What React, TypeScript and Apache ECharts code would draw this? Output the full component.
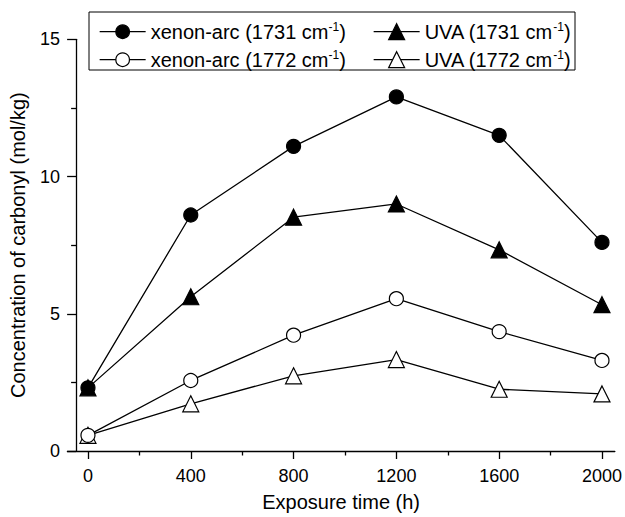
import React, { useEffect, useRef } from 'react';
import * as echarts from 'echarts';

const exposureHours = [0, 400, 800, 1200, 1600, 2000];
const xenon1731 = [2.3, 8.6, 11.1, 12.9, 11.5, 7.6];
const uva1731 = [2.3, 5.62, 8.52, 9.0, 7.33, 5.33];
const xenon1772 = [0.57, 2.57, 4.22, 5.55, 4.35, 3.3];
const uva1772 = [0.57, 1.72, 2.74, 3.33, 2.25, 2.08];
const xMajorTicks = [0, 400, 800, 1200, 1600, 2000];
const xMinorTicks = [200, 600, 1000, 1400, 1800];

const NAME_X31 = 'xenon-arc (1731 cm-1)';
const NAME_U31 = 'UVA (1731 cm-1)';
const NAME_X72 = 'xenon-arc (1772 cm-1)';
const NAME_U72 = 'UVA (1772 cm-1)';

const FONT = 'Liberation Sans, Arial, Helvetica, sans-serif';

const legendBase: Record<string, string> = {
  [NAME_X31]: 'xenon-arc (1731 cm',
  [NAME_U31]: 'UVA (1731 cm',
  [NAME_X72]: 'xenon-arc (1772 cm',
  [NAME_U72]: 'UVA (1772 cm',
};

function pair(xs: number[], ys: number[]) {
  return xs.map((x, i) => [x, ys[i]]);
}

export default function App() {
  const ref = useRef<HTMLDivElement>(null);
  useEffect(() => {
    if (!ref.current) return;
    const chart = echarts.init(ref.current, undefined, { renderer: 'svg' });
    const rich = {
      t: { fontSize: 20, lineHeight: 22, color: '#000', fontFamily: FONT },
      s: { fontSize: 12, lineHeight: 12, color: '#000', fontFamily: FONT, verticalAlign: 'top' },
    };
    const formatter = (name: string) => `{t|${legendBase[name]}}{s|-1}{t|)}`;
    const mkSeries = (name: string, data: number[], symbol: string, size: number, fill: string, z: number) => ({
      name,
      type: 'line',
      xAxisIndex: 0,
      yAxisIndex: 0,
      data: pair(exposureHours, data),
      symbol,
      symbolSize: size,
      showAllSymbol: true,
      z,
      lineStyle: { color: '#000', width: 1.3 },
      itemStyle: { color: fill, borderColor: '#000', borderWidth: 1.2 },
      emphasis: { disabled: true },
    });
    const legendItem = (name: string, fill: string) => ({
      name,
      itemStyle: { color: fill, borderColor: '#000', borderWidth: 1.2 },
      lineStyle: { color: '#000', width: 1.3 },
    });
    chart.setOption({
      animation: false,
      backgroundColor: '#fff',
      textStyle: { fontFamily: FONT },
      grid: { left: 67.4, right: 7.5, top: 39.3, bottom: 59.3, containLabel: false },
      legend: [
        {
          orient: 'vertical',
          left: 99,
          top: 20.7,
          padding: 0,
          itemGap: 7,
          itemWidth: 46,
          itemHeight: 17,
          selectedMode: false,
          data: [legendItem(NAME_X31, '#000'), legendItem(NAME_X72, '#fff')],
          formatter,
          textStyle: { rich, color: '#000' },
        },
        {
          orient: 'vertical',
          left: 373,
          top: 20.7,
          padding: 0,
          itemGap: 7,
          itemWidth: 46,
          itemHeight: 20,
          selectedMode: false,
          data: [legendItem(NAME_U31, '#000'), legendItem(NAME_U72, '#fff')],
          formatter,
          textStyle: { rich, color: '#000' },
        },
      ],
      graphic: [
        {
          type: 'rect',
          shape: { x: 89, y: 12, width: 486, height: 58 },
          style: { fill: 'none', stroke: '#000', lineWidth: 1 },
          silent: true,
        },
      ],
      xAxis: [
        {
          type: 'value',
          min: -80,
          max: 2050,
          position: 'bottom',
          name: 'Exposure time (h)',
          nameLocation: 'middle',
          nameGap: 41,
          nameTextStyle: { fontSize: 20, color: '#000', fontFamily: FONT },
          axisLine: { show: true, onZero: false, lineStyle: { color: '#000', width: 1.3 } },
          axisTick: { show: true, inside: false, length: 8, customValues: xMajorTicks, lineStyle: { color: '#000', width: 1.3 } },
          axisLabel: {
            show: true,
            customValues: xMajorTicks,
            formatter: (v: number) => String(v),
            margin: 16,
            fontSize: 18,
            color: '#000',
            fontFamily: FONT,
          },
          splitLine: { show: false },
        },
        {
          type: 'value',
          min: -80,
          max: 2050,
          position: 'bottom',
          axisLine: { show: false, onZero: false },
          axisTick: { show: true, inside: false, length: 4.5, customValues: xMinorTicks, lineStyle: { color: '#000', width: 1.3 } },
          axisLabel: { show: false },
          splitLine: { show: false },
        },
      ],
      yAxis: [
        {
          type: 'value',
          min: 0,
          max: 15,
          interval: 5,
          position: 'left',
          offset: -8.7,
          name: 'Concentration of carbonyl (mol/kg)',
          nameLocation: 'middle',
          nameGap: 48,
          nameTextStyle: { fontSize: 20, color: '#000', fontFamily: FONT },
          axisLine: { show: true, onZero: false, lineStyle: { color: '#000', width: 1.3 } },
          axisTick: { show: true, inside: false, length: 9, lineStyle: { color: '#000', width: 1.3 } },
          minorTick: { show: true, splitNumber: 2, length: 5, lineStyle: { color: '#000', width: 1.3 } },
          axisLabel: { margin: 16, fontSize: 18, color: '#000', fontFamily: FONT },
          splitLine: { show: false },
          minorSplitLine: { show: false },
        },
      ],
      series: [
        mkSeries(NAME_U72, uva1772, 'triangle', 16, '#fff', 2),
        mkSeries(NAME_X72, xenon1772, 'circle', 14, '#fff', 3),
        mkSeries(NAME_U31, uva1731, 'triangle', 16, '#000', 4),
        mkSeries(NAME_X31, xenon1731, 'circle', 14, '#000', 5),
      ],
    });
    return () => chart.dispose();
  }, []);
  return <div ref={ref} style={{ width: 625, height: 517, position: 'absolute', left: 0, top: 0 }} />;
}
